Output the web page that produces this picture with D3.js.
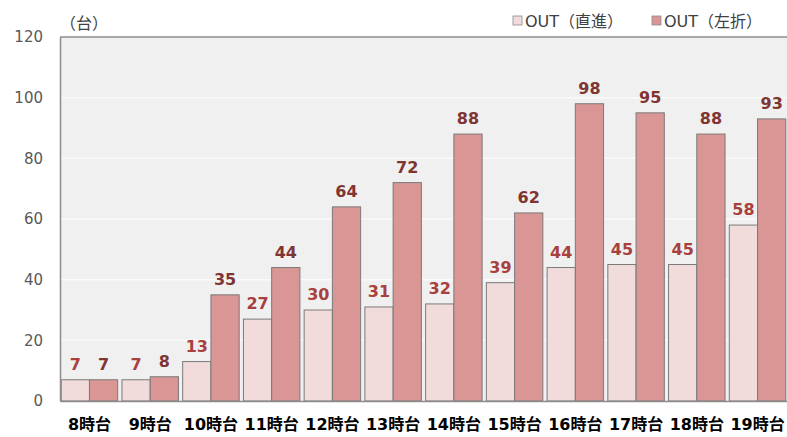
<!DOCTYPE html>
<html>
<head>
<meta charset="utf-8">
<script src="https://cdn.jsdelivr.net/npm/d3@7"></script>
<style>
body { margin: 0; background: #fff; }
text { font-family: "DejaVu Sans", "Noto Sans CJK JP", sans-serif; }
</style>
</head>
<body>
<script>
// categories and series
var hours = ["8時台","9時台","10時台","11時台","12時台","13時台","14時台","15時台","16時台","17時台","18時台","19時台"];
var straight = [7,7,13,27,30,31,32,39,44,45,45,58];
var leftTurn = [7,8,35,44,64,72,88,62,98,95,88,93];
var seriesNames = ["OUT（直進）","OUT（左折）"];
var yTicks = [0,20,40,60,80,100,120];

var w = 787, h = 437;
var plotLeft = 60, plotRight = 787, plotTop = 37, plotBottom = 401;

var colors = ["#f2dcdb","#d99694"];
var labelColors = ["#a8403d","#7f3532"];

var svg = d3.select("body").append("svg")
    .attr("width", w)
    .attr("height", h);

//scales
var x = d3.scaleBand()
    .domain(hours)
    .range([plotLeft, plotRight])
    .paddingInner(0.07)
    .paddingOuter(0.02);

var xSub = d3.scaleBand()
    .domain([0,1])
    .range([0, x.bandwidth()]);

var y = d3.scaleLinear()
    .domain([0,120])
    .range([plotBottom, plotTop]);

//plot background
svg.append("rect")
    .attr("x", plotLeft)
    .attr("y", plotTop)
    .attr("width", plotRight - plotLeft)
    .attr("height", plotBottom - plotTop)
    .attr("fill", "#f0f0f0");

//gridlines
svg.append("g")
    .selectAll("line")
    .data(yTicks.filter(function(d){ return d > 0 && d < 120; }))
    .enter().append("line")
    .attr("x1", plotLeft).attr("x2", plotRight)
    .attr("y1", function(d){ return y(d); })
    .attr("y2", function(d){ return y(d); })
    .attr("stroke", "#fafafa")
    .attr("stroke-width", 1.5);

//top border
svg.append("line")
    .attr("x1", plotLeft).attr("x2", plotRight)
    .attr("y1", y(120)).attr("y2", y(120))
    .attr("stroke", "#8c8c8c")
    .attr("stroke-width", 1.5);

//bars
var data = hours.map(function(d, i){ return [straight[i], leftTurn[i]]; });

var groups = svg.append("g")
    .selectAll("g")
    .data(data)
    .enter().append("g")
    .attr("transform", function(d, i){ return "translate(" + x(hours[i]) + ",0)"; });

groups.selectAll("rect")
    .data(function(d){ return d; })
    .enter().append("rect")
    .attr("x", function(d, j){ return xSub(j); })
    .attr("y", function(d){ return y(d); })
    .attr("width", xSub.bandwidth())
    .attr("height", function(d){ return y(0) - y(d); })
    .attr("fill", function(d, j){ return colors[j]; })
    .attr("stroke", "#7a7a7a")
    .attr("stroke-width", 1);

groups.selectAll("text")
    .data(function(d){ return d; })
    .enter().append("text")
    .attr("x", function(d, j){ return xSub(j) + xSub.bandwidth() / 2; })
    .attr("y", function(d){ return y(d) - 10; })
    .attr("text-anchor", "middle")
    .attr("font-size", "16px")
    .attr("font-weight", "bold")
    .attr("fill", function(d, j){ return labelColors[j]; })
    .text(function(d){ return d; });

//Y axis
var yAxis = svg.append("g")
    .attr("transform", "translate(" + plotLeft + ",0)")
    .call(d3.axisLeft(y).tickValues(yTicks).tickSize(0).tickPadding(17));
yAxis.select(".domain").attr("stroke", "#8c8c8c").attr("stroke-width", 1.5);
yAxis.selectAll("text")
    .attr("font-size", "15px")
    .attr("fill", "#595959")
    .style("font-family", "'DejaVu Sans', sans-serif");

//X axis
var xAxis = svg.append("g")
    .attr("transform", "translate(0," + plotBottom + ")")
    .call(d3.axisBottom(x).tickSize(0).tickPadding(18));
xAxis.select(".domain").attr("stroke", "#8c8c8c").attr("stroke-width", 1.5);
xAxis.selectAll("text")
    .attr("font-size", "16px")
    .attr("font-weight", "bold")
    .attr("fill", "#000")
    .style("font-family", "'DejaVu Sans', 'Noto Sans CJK JP', sans-serif");

//unit label
svg.append("text")
    .attr("x", 60)
    .attr("y", 29)
    .attr("font-size", "16px")
    .attr("fill", "#404040")
    .text("（台）");

//legend
var legendX = [513, 652];
var legend = svg.append("g")
    .selectAll("g")
    .data(seriesNames)
    .enter().append("g")
    .attr("transform", function(d, i){ return "translate(" + legendX[i] + ",0)"; });

legend.append("rect")
    .attr("x", 0).attr("y", 16)
    .attr("width", 9).attr("height", 9)
    .attr("fill", function(d, i){ return colors[i]; })
    .attr("stroke", "#8c8c8c")
    .attr("stroke-width", 0.8);

legend.append("text")
    .attr("x", 12)
    .attr("y", 27)
    .attr("font-size", "16px")
    .attr("fill", "#404040")
    .text(function(d){ return d; });
</script>
</body>
</html>
